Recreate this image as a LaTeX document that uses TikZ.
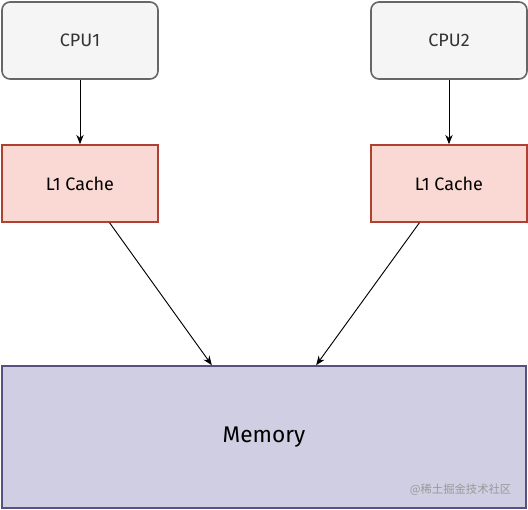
\documentclass[tikz,border=0pt]{standalone}
\usepackage{fontspec}
\setmainfont{Fira Sans}
\newfontfamily\cjk{Noto Sans CJK SC}
\usepackage{tikz}
\usetikzlibrary{arrows.meta}

\definecolor{cpufill}{HTML}{F5F5F5}
\definecolor{cpudraw}{HTML}{666666}
\definecolor{cachefill}{HTML}{FAD9D5}
\definecolor{cachedraw}{HTML}{AE4132}
\definecolor{memfill}{HTML}{D0CEE2}
\definecolor{memdraw}{HTML}{56517E}

\begin{document}
\begin{tikzpicture}[
    x=0.75pt, y=-0.75pt,
    font=\fontsize{13.5}{16}\selectfont,
    cpu/.style={rectangle, draw=cpudraw, fill=cpufill, line width=1.2pt, rounded corners=6pt, minimum width=117pt, minimum height=57.75pt, text=black!80},
    cache/.style={rectangle, draw=cachedraw, fill=cachefill, line width=1.2pt, minimum width=117pt, minimum height=57.75pt},
    mem/.style={rectangle, draw=memdraw, fill=memfill, line width=1.2pt, minimum width=393pt, minimum height=106.5pt, font=\fontsize{17}{20}\selectfont},
    link/.style={-{Stealth[length=7pt,width=5.5pt]}, line width=0.7pt}
]
\useasboundingbox (0,0) rectangle (528,510);

\node[cpu] (CPU1) at (80,40.5) {CPU1};
\node[cpu] (CPU2) at (449,40.5) {CPU2};
\node[cache] (CacheL) at (80,183.5) {L1 Cache};
\node[cache] (CacheR) at (449,183.5) {L1 Cache};
\node[mem] (Memory) at (264,437) {Memory};
\node[anchor=east, text=black!40, font=\cjk\fontsize{8.5}{10}\selectfont] (Mark) at (516,490) {@稀土掘金技术社区};

\draw[link] (CPU1) -- (CacheL);
\draw[link] (CPU2) -- (CacheR);
\draw[link] (CacheL.-53) -- (Memory.126);
\draw[link] (CacheR.-127) -- (Memory.54);
\end{tikzpicture}
\end{document}
